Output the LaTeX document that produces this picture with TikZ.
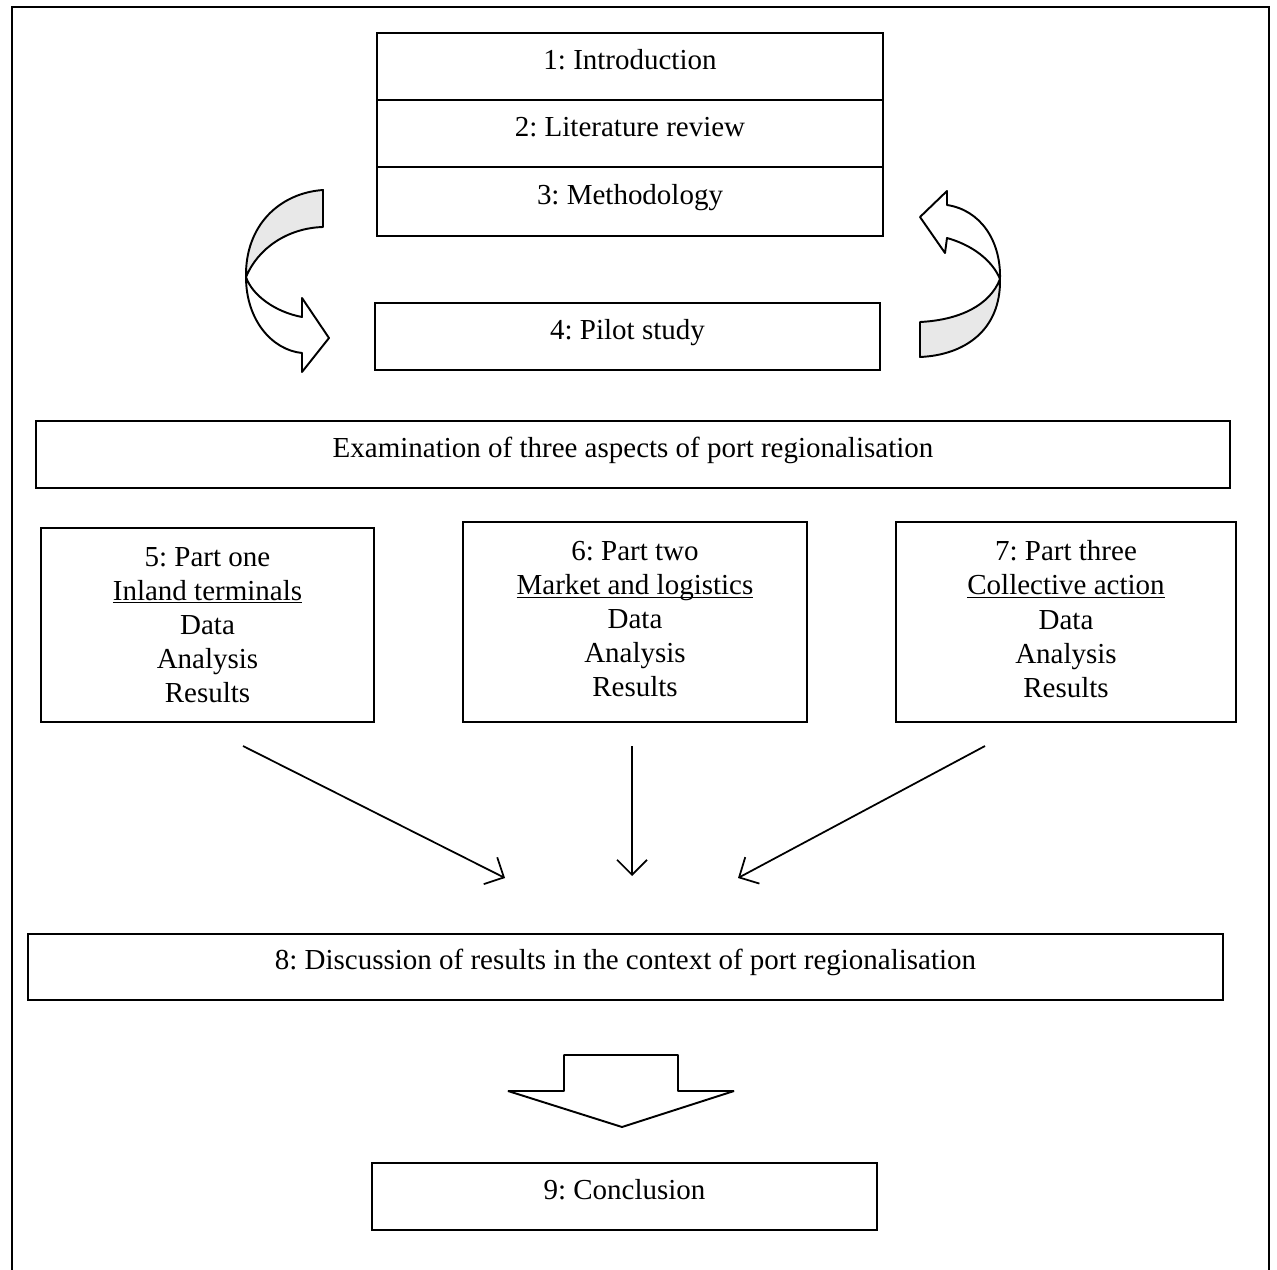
\documentclass[tikz,border=0pt]{standalone}
\usepackage{fontspec}
\setmainfont{Liberation Serif}
\usetikzlibrary{arrows.meta,positioning}
\frenchspacing
\newcommand{\undertext}[1]{\underline{\smash{#1}}}

\begin{document}
\begin{tikzpicture}[
    x = 0.02cm, y = -0.02cm, % one unit per pixel of the scan
    > = {Straight Barb[length=0.3cm,width=0.6cm]}, % arrow head style
    line width = 1pt
    ]

    \tikzset{every node/.style={font=\fontsize{16.5}{19.4}\selectfont}}
    \tikzset{box/.style={
    draw = black,
    line width = 0.85pt,
    rectangle,
    inner sep = 0pt,
    outer sep = 0pt,
    align = center
    }}
    \tikzset{onebox/.style={box, minimum height=1.34cm, text height=0.7em, text depth=0.36em}}
    \tikzset{partbox/.style={box, minimum height=4cm}}
    \tikzset{ribbon/.style={draw=black, line width=1.1pt, line join=round}}

    \useasboundingbox (0,0) rectangle (1277,1270);
    % frame round the page
    \draw[line width=1.4pt] (12,1270) -- (12,7) -- (1269,7) -- (1269,1270);

    \node[onebox, minimum width=10.12cm] (intro) at (630,66.5) {1: Introduction};
    \node[onebox, minimum width=10.12cm] (lit) [below=0pt of intro] {2: Literature review};
    \node[onebox, minimum width=10.12cm, minimum height=1.38cm] (meth) [below=0pt of lit] {3: Methodology};
    \node[onebox, minimum width=10.1cm] (pilot) at (627.5,336.5) {4: Pilot study};
    \node[onebox, minimum width=23.88cm] (exam) at (633,454.5) {Examination of three aspects of port regionalisation};

    \node[partbox, minimum width=6.66cm, minimum height=3.88cm] (one) at (207.5,625)
      {5: Part one\\\undertext{Inland terminals}\\Data\\Analysis\\Results};
    \node[partbox, minimum width=6.88cm, text depth=0.12cm] (two) at (635,622)
      {6: Part two\\\undertext{Market and logistics}\\Data\\Analysis\\Results};
    \node[partbox, minimum width=6.8cm, text depth=0.12cm] (three) at (1066,622)
      {7: Part three\\\undertext{Collective action}\\Data\\Analysis\\Results};

    \node[onebox, minimum width=23.9cm, minimum height=1.32cm] (disc) at (625.5,967)
      {8: Discussion of results in the context of port regionalisation};
    \node[onebox, minimum width=10.1cm] (concl) at (624.5,1196.5) {9: Conclusion};

    % arrows into the discussion
    \coordinate (from1) at (243,746);
    \coordinate (to1) at (505,878);
    \coordinate (from2) at (632,746);
    \coordinate (to2) at (632,876);
    \coordinate (from3) at (985,746);
    \coordinate (to3) at (738,878);
    \draw[->] (from1) -- (to1);
    \draw[->] (from2) -- (to2);
    \draw[->] (from3) -- (to3);

    % curved arrow on the left
    \filldraw[ribbon, fill=gray!18] (323,190) .. controls (280,193) and (245,225) .. (246,277)
      .. controls (258,248) and (288,228) .. (323,227) -- cycle;
    \filldraw[ribbon, fill=white] (246,277) .. controls (246,320) and (272,350) .. (302,353)
      -- (302,372) -- (329,338) -- (302,298) -- (302,317)
      .. controls (275,312) and (252,295) .. (246,277) -- cycle;

    % curved arrow on the right
    \filldraw[ribbon, fill=gray!18] (920,357) .. controls (965,355) and (1001,330) .. (1000,279)
      .. controls (990,305) and (960,320) .. (920,322) -- cycle;
    \filldraw[ribbon, fill=white] (1000,279) .. controls (1001,240) and (980,210) .. (947,205)
      -- (947,191) -- (920,217) -- (945,253) -- (947,238)
      .. controls (972,245) and (992,260) .. (1000,279) -- cycle;

    % block arrow down to the conclusion
    \draw[line width=1.1pt, line join=bevel] (564,1055) -- (678,1055) -- (678,1091) -- (734,1091)
      -- (622,1127) -- (508,1091) -- (564,1091) -- cycle;
\end{tikzpicture}
\end{document}
